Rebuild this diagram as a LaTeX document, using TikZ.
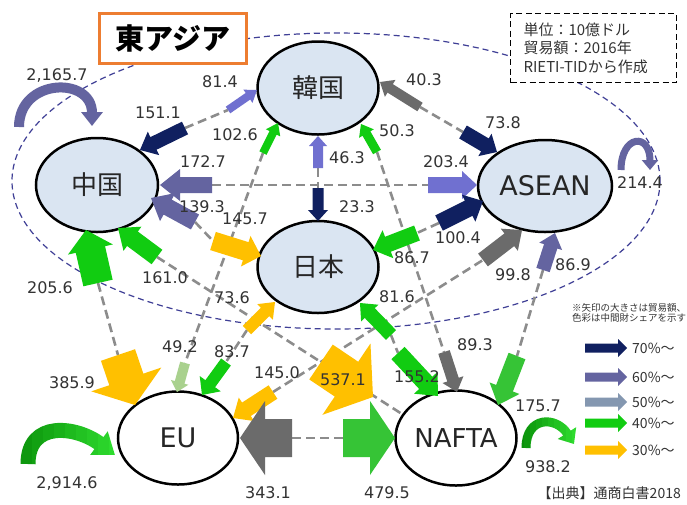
\documentclass[tikz,border=0pt]{standalone}
\usepackage{fontspec}
\setmainfont{DejaVu Sans}
\newfontfamily\cjk{Noto Sans CJK JP}
\usetikzlibrary{calc,shapes.geometric,arrows.meta}
\definecolor{navyc}{HTML}{102060}
\definecolor{slatec}{HTML}{6464A0}
\definecolor{peric}{HTML}{7070D0}
\definecolor{bluegrayc}{HTML}{8497B0}
\definecolor{grayc}{HTML}{6B6B6B}
\definecolor{greenc}{HTML}{11CC11}
\definecolor{greenb}{HTML}{36C436}
\definecolor{lgreenc}{HTML}{A9D18E}
\definecolor{goldc}{HTML}{FFC000}
\definecolor{nodefill}{HTML}{DAE5F2}
\definecolor{labc}{HTML}{333333}
\definecolor{dashgray}{HTML}{8C8C8C}
\definecolor{eadash}{HTML}{3F3F96}
\definecolor{orangec}{HTML}{ED7D31}
\definecolor{gdark}{HTML}{0A900A}
\definecolor{glight}{HTML}{2EDC2E}
% block arrow: #1 colour, #2 tail, #3 tip, #4 shaft half width, #5 head half width, #6 head length
\newcommand\blk[6]{%
  \coordinate (bhtmp) at ($(#3)!#6pt!(#2)$);
  \fill[#1] ($(#2)!#4pt!90:(#3)$) -- ($(bhtmp)!#4pt!90:(#3)$) -- ($(bhtmp)!#5pt!90:(#3)$) -- (#3)
    -- ($(bhtmp)!#5pt!-90:(#3)$) -- ($(bhtmp)!#4pt!-90:(#3)$) -- ($(#2)!#4pt!-90:(#3)$) -- cycle;}
\begin{document}
\begin{tikzpicture}[x=1pt,y=-1pt,
  lbl/.style={text=labc, font=\fontsize{16}{18}\selectfont, inner sep=0pt},
  region/.style={ellipse, draw=black, line width=2.5pt, fill=nodefill, inner sep=0pt, text=black!85},
  conn/.style={draw=dashgray, line width=2.6pt, dash pattern=on 9pt off 5pt},
  leglbl/.style={anchor=west, inner sep=0pt, text=labc, font=\cjk\fontsize{14}{16}\selectfont}]
\useasboundingbox (0,0) rectangle (687,504);
\fill[white] (0,0) rectangle (687,504);
% East Asia region
\draw[eadash, line width=1.2pt, dash pattern=on 6pt off 4pt] (336,181) ellipse [x radius=324pt, y radius=148pt];

% arrow end points
\coordinate (a151t) at (185,128); \coordinate (a151h) at (140,150);
\coordinate (a81t) at (228,110);  \coordinate (a81h) at (257,90);
\coordinate (a40t) at (420,107);  \coordinate (a40h) at (380,82);
\coordinate (a73t) at (463,132);  \coordinate (a73h) at (497,152);
\coordinate (a46t) at (318,168);  \coordinate (a46h) at (318,136);
\coordinate (a23t) at (318,188);  \coordinate (a23h) at (318,221);
\coordinate (a172t) at (212,185); \coordinate (a172h) at (160,185);
\coordinate (a203t) at (428,185); \coordinate (a203h) at (477,185);
\coordinate (a139t) at (195,222); \coordinate (a139h) at (151,198);
\coordinate (a145t) at (213,241); \coordinate (a145h) at (261,256);
\coordinate (a100t) at (439,223); \coordinate (a100h) at (483,201);
\coordinate (a86t) at (417,233);  \coordinate (a86h) at (373,250);
\coordinate (a102t) at (263,153); \coordinate (a102h) at (278,123);
\coordinate (a49t) at (185,363);  \coordinate (a49h) at (177,392);
\coordinate (a50t) at (377,152);  \coordinate (a50h) at (361,124);
\coordinate (a89t) at (444,352);  \coordinate (a89h) at (457,392);
\coordinate (a205t) at (98,283);  \coordinate (a205h) at (86,230);
\coordinate (a385t) at (118,355); \coordinate (a385h) at (135,405);
\coordinate (a161t) at (157,257); \coordinate (a161h) at (118,228);
\coordinate (a537t) at (321,362); \coordinate (a537h) at (373,397);
\coordinate (e537) at (402,414);
\coordinate (a736t) at (247,330); \coordinate (a736h) at (275,302);
\coordinate (a837t) at (226,362); \coordinate (a837h) at (202,395);
\coordinate (a816t) at (391,335); \coordinate (a816h) at (360,303);
\coordinate (a155t) at (398,353); \coordinate (a155h) at (438,396);
\coordinate (a1450t) at (273,392); \coordinate (a1450h) at (233,418);
\coordinate (a998t) at (483,260); \coordinate (a998h) at (522,230);
\coordinate (a869t) at (543,270); \coordinate (a869h) at (555,233);
\coordinate (a175t) at (517,356); \coordinate (a175h) at (498,405);
\coordinate (a343t) at (292,438); \coordinate (a343h) at (240,438);
\coordinate (a479t) at (343,438); \coordinate (a479h) at (395,438);

% dashed connectors
\draw[conn] (a151t) -- (a81t);
\draw[conn] (a40t) -- (a73t);
\draw[conn] (a46t) -- (a23t);
\draw[conn] (a172t) -- (a203t);
\draw[conn] (a139t) -- (a145t);
\draw[conn] (a100t) -- (a86t);
\draw[conn] (a102t) -- (a49t);
\draw[conn] (a50t) -- (a89t);
\draw[conn] (a205t) -- (a385t);
\draw[conn] (a161t) -- (e537);
\draw[conn] (a736t) -- (a837t);
\draw[conn] (a816t) -- (a155t);
\draw[conn] (a1450t) -- (a998t);
\draw[conn] (a869t) -- (a175t);
\draw[conn] (a343t) -- (a479t);

% regions
\node[region, minimum width=121pt, minimum height=93pt] (kr) at (318,88) {\cjk\fontsize{26}{28}\selectfont 韓国};
\node[region, minimum width=122pt, minimum height=94pt] (cn) at (97,185) {\cjk\fontsize{26}{28}\selectfont 中国};
\node[region, minimum width=134pt, minimum height=92pt] (asean) at (545,186) {\fontsize{27}{29}\selectfont ASEAN};
\node[region, minimum width=121pt, minimum height=92pt] (jp) at (318,267) {\cjk\fontsize{26}{28}\selectfont 日本};
\node[region, fill=white, minimum width=120pt, minimum height=93pt] (eu) at (178,438) {\fontsize{27}{29}\selectfont EU};
\node[region, fill=white, minimum width=121pt, minimum height=95pt] (nafta) at (456,438) {\fontsize{26}{28}\selectfont NAFTA};

% block arrows
\blk{navyc}{a151t}{a151h}{7}{13}{15}
\blk{peric}{a81t}{a81h}{4}{8}{11}
\blk{grayc}{a40t}{a40h}{5}{10}{12}
\blk{navyc}{a73t}{a73h}{7.5}{13}{14}
\blk{peric}{a46t}{a46h}{5}{9}{10}
\blk{navyc}{a23t}{a23h}{5.5}{10}{11}
\blk{slatec}{a172t}{a172h}{8}{16}{20}
\blk{peric}{a203t}{a203h}{8}{14}{15}
\blk{slatec}{a139t}{a139h}{8.5}{16}{19}
\blk{goldc}{a145t}{a145h}{9.5}{16}{16}
\blk{navyc}{a100t}{a100h}{8.5}{15}{16}
\blk{greenc}{a86t}{a86h}{8}{15}{16}
\blk{greenc}{a102t}{a102h}{4}{8}{11}
\blk{lgreenc}{a49t}{a49h}{5}{9}{10}
\blk{greenc}{a50t}{a50h}{4.5}{8.5}{11}
\blk{grayc}{a89t}{a89h}{6}{11}{13}
\blk{greenc}{a205t}{a205h}{15}{23}{20}
\blk{goldc}{a385t}{a385h}{18}{37}{27}
\blk{greenc}{a161t}{a161h}{9}{15}{18}
\blk{goldc}{a537t}{a537h}{21}{43}{32}
\blk{goldc}{a736t}{a736h}{6}{11}{14}
\blk{greenc}{a837t}{a837h}{6}{13}{14}
\blk{greenc}{a816t}{a816h}{7}{12}{14}
\blk{greenc}{a155t}{a155h}{9}{16}{18}
\blk{goldc}{a1450t}{a1450h}{8}{14}{16}
\blk{grayc}{a998t}{a998h}{8}{14}{16}
\blk{slatec}{a869t}{a869h}{7}{12}{14}
\blk{greenb}{a175t}{a175h}{9}{16}{18}
\blk{grayc}{a343t}{a343h}{19}{37}{25}
\blk{greenb}{a479t}{a479h}{19}{37}{25}

% self loops
\draw[slatec, line width=10pt, -{Triangle[width=21pt,length=14pt]}] (19,127) .. controls (19,78) and (92,76) .. (92,126);
\draw[slatec, line width=7pt, -{Triangle[width=16pt,length=10pt]}] (621,170) .. controls (621,135) and (650,132) .. (650,170);
\foreach \i in {0,...,9} {
  \pgfmathsetmacro\pc{100-\i*11}
  \colorlet{stripc}{gdark!\pc!glight}
  \begin{scope}
    \clip (10+\i*11,400) rectangle (21+\i*11,480);
    \draw[stripc, line width=15pt, -{Triangle[width=28pt,length=20pt]}] (28,464) .. controls (28,420) and (76,426) .. (115,455);
  \end{scope}
  \begin{scope}
    \clip (518+\i*6,400) rectangle (524+\i*6,460);
    \draw[stripc, line width=9pt, -{Triangle[width=21pt,length=13pt]}] (526,448) .. controls (526,416) and (556,416) .. (574,444);
  \end{scope}
}

% labels
\node[lbl] (l2165) at (57,75) {2,165.7};
\node[lbl] (l151) at (158,113) {151.1};
\node[lbl] (l81) at (220,82) {81.4};
\node[lbl] (l40) at (424,80) {40.3};
\node[lbl] (l73) at (503,123) {73.8};
\node[lbl] (l102) at (235,135) {102.6};
\node[lbl] (l50) at (397,131) {50.3};
\node[lbl] (l46) at (347,158) {46.3};
\node[lbl] (l23) at (357,207) {23.3};
\node[lbl] (l172) at (203,162) {172.7};
\node[lbl] (l203) at (446,162) {203.4};
\node[lbl] (l214) at (640,183) {214.4};
\node[lbl] (l139) at (202,207) {139.3};
\node[lbl] (l145) at (245,219) {145.7};
\node[lbl] (l100) at (458,238) {100.4};
\node[lbl] (l86) at (412,258) {86.7};
\node[lbl] (l998) at (513,275) {99.8};
\node[lbl] (l869) at (573,265) {86.9};
\node[lbl] (l205) at (50,288) {205.6};
\node[lbl] (l161) at (165,278) {161.0};
\node[lbl] (l736) at (232,298) {73.6};
\node[lbl] (l816) at (397,297) {81.6};
\node[lbl] (l49) at (180,347) {49.2};
\node[lbl] (l837) at (232,352) {83.7};
\node[lbl] (l893) at (475,345) {89.3};
\node[lbl] (l1450) at (277,373) {145.0};
\node[lbl] (l537) at (343,380) {537.1};
\node[lbl] (l155) at (417,377) {155.2};
\node[lbl] (l385) at (72,383) {385.9};
\node[lbl] (l175) at (538,406) {175.7};
\node[lbl] (l938) at (548,467) {938.2};
\node[lbl] (l2914) at (67,483) {2,914.6};
\node[lbl] (l343) at (268,493) {343.1};
\node[lbl] (l479) at (387,493) {479.5};

% title and note boxes
\node[draw=orangec, line width=3pt, fill=white, minimum width=147pt, minimum height=50pt, inner sep=0pt] (title) at (173,38.5) {\cjk\bfseries\fontsize{29}{30}\selectfont 東アジア};
\node[draw=black, line width=1.3pt, dash pattern=on 6pt off 3.5pt, fill=white, minimum width=166pt, minimum height=69pt, inner sep=0pt, align=left, text width=140pt, text=labc, font=\cjk\fontsize{15}{18.5}\selectfont] (unit) at (593.5,48) {単位：10億ドル\\貿易額：2016年\\RIETI-TIDから作成};
\node[anchor=north west, align=left, inner sep=0pt, text=labc, font=\cjk\fontsize{9.5}{10.5}\selectfont] (note) at (572,303) {※矢印の大きさは貿易額、\\色彩は中間財シェアを示す};

% legend
\coordinate (g70t) at (585,348) ; \coordinate (g70h) at (627,348);
\coordinate (g60t) at (585,377) ; \coordinate (g60h) at (627,377);
\coordinate (g50t) at (585,402) ; \coordinate (g50h) at (627,402);
\coordinate (g40t) at (585,423) ; \coordinate (g40h) at (627,423);
\coordinate (g30t) at (585,450) ; \coordinate (g30h) at (627,450);
\blk{navyc}{g70t}{g70h}{4.5}{9}{9}
\blk{slatec}{g60t}{g60h}{4.5}{9}{9}
\blk{bluegrayc}{g50t}{g50h}{4.5}{9}{9}
\blk{greenc}{g40t}{g40h}{4.5}{9}{9}
\blk{goldc}{g30t}{g30h}{4.5}{9}{9}
\node[leglbl] (k70) at (632,348) {70\%～};
\node[leglbl] (k60) at (632,377) {60\%～};
\node[leglbl] (k50) at (632,402) {50\%～};
\node[leglbl] (k40) at (632,423) {40\%～};
\node[leglbl] (k30) at (632,450) {30\%～};
\node[anchor=east, inner sep=0pt, text=labc, font=\cjk\fontsize{14}{16}\selectfont] (src) at (681,493) {【出典】通商白書2018};
\end{tikzpicture}
\end{document}
